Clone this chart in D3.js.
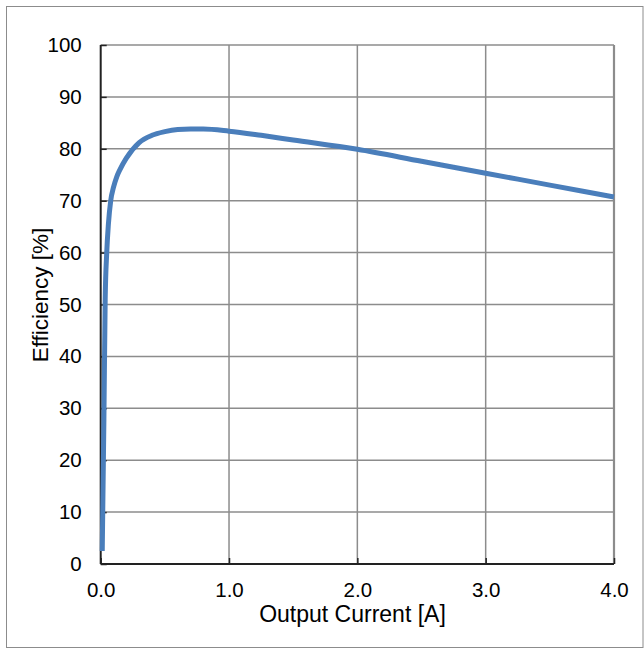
<!DOCTYPE html>
<html><head><meta charset="utf-8">
<script src="https://cdn.jsdelivr.net/npm/d3@7"></script>
<style>body{margin:0;background:#fff;} svg{display:block;}</style>
</head><body>
<script>
const currentA = [0.012,0.025,0.035,0.047,0.06,0.078,0.1,0.125,0.15,0.2,0.3,0.4,0.5,0.6,0.7,0.8,1.0,1.25,1.5,2.0,2.5,3.0,3.5,4.0];
const efficiency = [2.5,28,51,60,65.5,70,72.6,74.6,76,78.2,81.2,82.6,83.3,83.7,83.8,83.8,83.4,82.6,81.7,79.9,77.6,75.3,73,70.7];
const xTicks = [0,1,2,3,4];
const yTicks = [0,10,20,30,40,50,60,70,80,90,100];
const xTitle = "Output Current [A]";
const yTitle = "Efficiency [%]";

const W=644,H=649;
const svg=d3.select("body").append("svg").attr("width",W).attr("height",H);
svg.append("rect").attr("x",6.5).attr("y",6.5).attr("width",636.5).attr("height",641).attr("fill","none").attr("stroke","#8c8c8c").attr("stroke-width",1);

const x=d3.scaleLinear().domain([0,4]).range([100.7,614]);
const y=d3.scaleLinear().domain([0,100]).range([564,45]);
const font="'Liberation Sans', Arial, sans-serif";

// gridlines
svg.append("g").selectAll("line").data(yTicks.slice(1)).join("line")
  .attr("x1",x(0)).attr("x2",x(4)).attr("y1",d=>y(d)).attr("y2",d=>y(d))
  .attr("stroke","#8c8c8c").attr("stroke-width",1.5);
svg.append("g").selectAll("line").data(xTicks.slice(1)).join("line")
  .attr("y1",y(0)).attr("y2",y(100)).attr("x1",d=>x(d)).attr("x2",d=>x(d))
  .attr("stroke","#8c8c8c").attr("stroke-width",d=>d===4?2.2:1.5);

// axes
const yAxis=svg.append("g").attr("transform",`translate(${x(0)},0)`)
  .call(d3.axisLeft(y).tickValues(yTicks).tickSize(-6).tickPadding(19).tickFormat(d3.format("d")));
const xAxis=svg.append("g").attr("transform",`translate(0,${y(0)})`)
  .call(d3.axisBottom(x).tickValues(xTicks).tickSize(-6).tickPadding(18).tickFormat(d3.format(".1f")));
[yAxis,xAxis].forEach(a=>{
  a.select(".domain").attr("stroke","#222").attr("stroke-width",2);
  a.selectAll(".tick line").attr("stroke","#222").attr("stroke-width",1.5);
  a.selectAll("text").attr("font-family",font).attr("font-size",20.5).attr("fill","#000");
});
yAxis.select(".domain").attr("d",`M0,${y(0)}V${y(100)}`);
xAxis.select(".domain").attr("d",`M${x(0)},0H${x(4)}`);

// curve
const data=currentA.map((c,i)=>({c,e:efficiency[i]}));
svg.append("path").datum(data)
  .attr("fill","none").attr("stroke","#4a7ebb").attr("stroke-width",5).attr("stroke-linejoin","round")
  .attr("d",d3.line().x(d=>x(d.c)).y(d=>y(d.e)).curve(d3.curveMonotoneX));

// titles
svg.append("text").attr("x",352.5).attr("y",622).attr("text-anchor","middle")
  .attr("font-family",font).attr("font-size",23).text(xTitle);
svg.append("text").attr("transform",`translate(48,295) rotate(-90)`).attr("text-anchor","middle")
  .attr("font-family",font).attr("font-size",22.5).text(yTitle);
</script>
</body></html>
